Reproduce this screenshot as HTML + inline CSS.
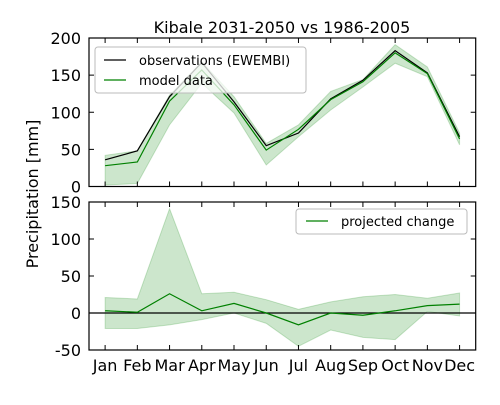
<!DOCTYPE html>
<html><head><meta charset="utf-8"><style>
body{margin:0;background:#fff;width:500px;height:400px;overflow:hidden}
svg{font-family:"DejaVu Sans","Liberation Sans",sans-serif}
</style></head><body>
<svg id="c" width="500" height="400"></svg>
<script>
const months=["Jan","Feb","Mar","Apr","May","Jun","Jul","Aug","Sep","Oct","Nov","Dec"];
const obs=[36,48,121,167,114,55,72,118,143,183,153,67];
const model=[28,33,115,157,110,49,77,117,141,180,152,64];
const modelHi=[42,48,123,168,121,58,83,128,144,191,161,72];
const modelLo=[2,4,83,139,99,29,67,103,134,166,148,56];
const change=[3,1,26,3,13,0,-16,0,-3,3,10,12];
const changeHi=[21,19,141,26,28,18,5,15,22,25,20,27];
const changeLo=[-21,-21,-16,-9,0,-14,-45,-23,-33,-36,2,-4];
const topTicks=[0,50,100,150,200];
const botTicks=[-50,0,50,100,150];
const NS="http://www.w3.org/2000/svg";
const svg=document.getElementById('c');
function mk(t,a,p){const e=document.createElementNS(NS,t);for(const k in a)e.setAttribute(k,a[k]);(p||svg).appendChild(e);return e;}
const L=89,R=475.7;
const x=i=>L+(i+0.5)*(R-L)/12;
const yT=v=>186.5-(v-0)*(186.5-38)/200;
const yB=v=>350-(v+50)*(350-202)/200;
function panel(name){
  const g=mk('g',{});
  
  
  return g;
}
function band(g,hi,lo,y,name){
  let d='M'+hi.map((v,i)=>x(i)+','+y(v)).join('L')+'L'+lo.map((v,i)=>[i,v]).reverse().map(p=>x(p[0])+','+y(p[1])).join('L')+'Z';
  const p=mk('path',{d:d,fill:'#008000','fill-opacity':0.2,stroke:'#008000','stroke-opacity':0.2},g);
  
  
}
function line(g,vals,y,col,name){
  const p=mk('polyline',{points:vals.map((v,i)=>x(i)+','+y(v)).join(' '),fill:'none',stroke:col,'stroke-width':1.2},g);
  
  
}
function axes(g,t,b,y,ticks,showX,axname){
  for(const v of ticks){
    const yy=y(v);
    mk('line',{x1:L,x2:L+5,y1:yy,y2:yy,stroke:'#000'},g);
    mk('line',{x1:R-5,x2:R,y1:yy,y2:yy,stroke:'#000'},g);
    const tx=mk('text',{x:L-8,y:yy+6,'text-anchor':'end','font-size':16},g);tx.textContent=v;
    
    
  }
  months.forEach((m,i)=>{
    mk('line',{x1:x(i),x2:x(i),y1:b,y2:b-5,stroke:'#000'},g);
    mk('line',{x1:x(i),x2:x(i),y1:t,y2:t+5,stroke:'#000'},g);
    if(showX){const tx=mk('text',{x:x(i),y:b+21,'text-anchor':'middle','font-size':16},g);tx.textContent=m;
      
      }
  });
  mk('rect',{x:L,y:t,width:R-L,height:b-t,fill:'none',stroke:'#000','stroke-width':1.2},g);
}
const g1=panel('top-panel');
band(g1,modelHi,modelLo,yT,'model-range-band');
line(g1,obs,yT,'#000','observations-line');
line(g1,model,yT,'#008000','model-line');
axes(g1,38,186.5,yT,topTicks,false,'top-y');
const g2=panel('bottom-panel');
band(g2,changeHi,changeLo,yB,'change-range-band');
mk('line',{x1:L,x2:R,y1:yB(0),y2:yB(0),stroke:'#000','stroke-width':1.2},g2);
line(g2,change,yB,'#008000','projected-change-line');
axes(g2,202,350,yB,botTicks,true,'bottom-y');
</script>
<svg width="500" height="400" style="position:absolute;left:0;top:0">
<text x="282" y="33" text-anchor="middle" font-size="16" font-family="DejaVu Sans,sans-serif">Kibale 2031-2050 vs 1986-2005</text>
<text transform="translate(38,194) rotate(-90)" text-anchor="middle" font-size="16" font-family="DejaVu Sans,sans-serif">Precipitation [mm]</text>
<g>
<rect x="95" y="47" width="211" height="46" rx="3" fill="#fff" fill-opacity="0.75" stroke="#bbb"/>
<line x1="104" x2="126" y1="60" y2="60" stroke="#000" stroke-width="1.2"/>
<text x="139" y="65" font-size="13" font-family="DejaVu Sans,sans-serif">observations (EWEMBI)</text>
<line x1="104" x2="126" y1="80" y2="80" stroke="#008000" stroke-width="1.2"/>
<text x="139" y="85" font-size="13" font-family="DejaVu Sans,sans-serif">model data</text>
</g>
<g>
<rect x="296" y="209" width="171" height="25" rx="3" fill="#fff" fill-opacity="0.75" stroke="#bbb"/>
<line x1="306" x2="328" y1="221" y2="221" stroke="#008000" stroke-width="1.2"/>
<text x="341" y="226" font-size="13" font-family="DejaVu Sans,sans-serif">projected change</text>
</g>
</svg>
</body></html>
